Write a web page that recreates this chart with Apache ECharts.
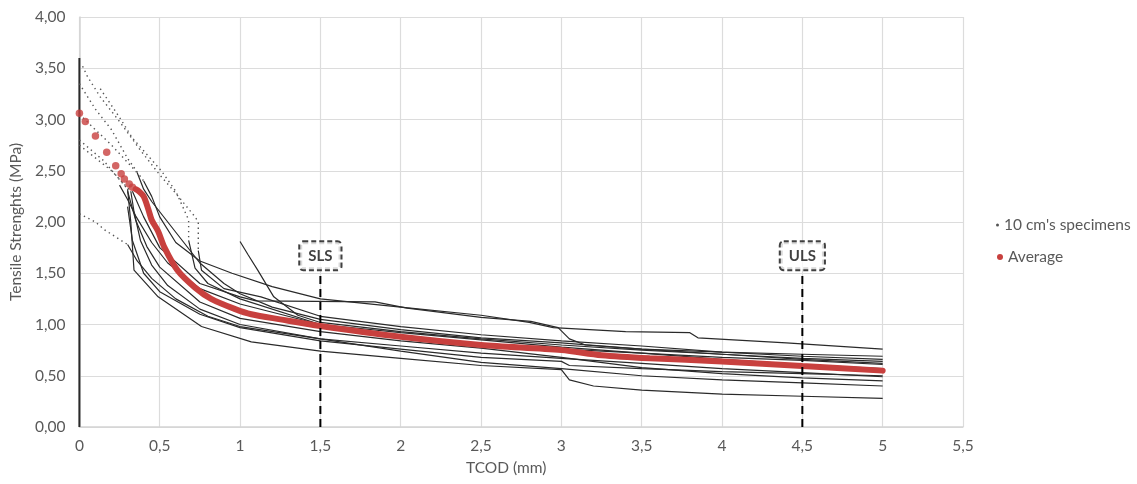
<!DOCTYPE html>
<html>
<head>
<meta charset="utf-8">
<script src="https://cdn.jsdelivr.net/npm/echarts@6/dist/echarts.min.js"></script>
<style>html,body{margin:0;padding:0;background:#fff}#c{width:1137px;height:484px}</style>
</head>
<body>
<div id="c"></div>
<script>
// ---- axis ticks ----
const xTicks = [0, 0.5, 1, 1.5, 2, 2.5, 3, 3.5, 4, 4.5, 5, 5.5];
const yTicks = [0, 0.5, 1, 1.5, 2, 2.5, 3, 3.5, 4];

// ---- specimen curves: sparse (dotted) heads ----
const h1 = [[0,0],[0,3.6]];
const h2 = [[0.02,3.52],[0.05,3.42],[0.13,3.22],[0.25,2.98],[0.38,2.7],[0.5,2.46],[0.6,2.28],[0.72,2.05],[0.74,2.0],[0.74,1.72]];
const h3 = [[0.13,3.3],[0.25,3.02],[0.33,2.82],[0.51,2.5],[0.6,2.3],[0.68,2.02],[0.68,1.82]];
const h4 = [[0,2.08],[0.1,2.0],[0.16,1.92],[0.3,1.78]];
const h5 = [[0,2.8],[0.15,2.6],[0.3,2.32]];
const h6 = [[0,2.75],[0.2,2.5],[0.32,2.3]];
const h7 = [[0,3.05],[0.2,2.75],[0.36,2.48]];
const h8 = [[0,3.35],[0.1,3.1],[0.2,2.9],[0.3,2.62],[0.4,2.4]];

// ---- specimen curves: dense (solid) parts ----
const s1 = [[0.4,2.4],[0.45,2.25],[0.5,2.05],[0.6,1.8],[0.75,1.62],[0.95,1.5],[1.2,1.37],[1.5,1.25],[2.0,1.17],[2.5,1.09],[2.8,1.02],[2.95,0.97],[3.4,0.93],[3.8,0.92],[3.85,0.87],[4.4,0.82],[5.0,0.76]];
const s2 = [[0.33,2.3],[0.4,2.05],[0.5,1.75],[0.75,1.4],[1.0,1.27],[1.1,1.23],[1.84,1.22],[2.04,1.16],[2.5,1.07],[2.81,1.03],[2.98,0.97],[3.05,0.86],[3.15,0.8],[3.5,0.76],[4.0,0.73],[4.5,0.71],[5.0,0.69]];
const s3 = [[1.0,1.81],[1.05,1.68],[1.11,1.53],[1.21,1.27],[1.36,1.09],[1.5,1.02],[2.0,0.93],[2.5,0.86],[3.0,0.8],[3.5,0.75],[4.0,0.71],[4.5,0.67],[5.0,0.64]];
const s4 = [[0.74,1.72],[0.76,1.53],[0.9,1.35],[1.13,1.27],[1.5,1.08],[2.0,0.98],[2.5,0.9],[3.0,0.84],[3.5,0.79],[4.0,0.73],[4.5,0.69],[5.0,0.66]];
const s5 = [[0.68,1.82],[0.72,1.55],[0.8,1.4],[1.0,1.25],[1.5,1.0],[2.0,0.88],[2.5,0.8],[3.0,0.76],[3.5,0.72],[4.0,0.68],[4.5,0.65],[5.0,0.61]];
const s6 = [[0.3,1.78],[0.36,1.62],[0.45,1.45],[0.6,1.25],[0.8,1.08],[1.0,0.98],[1.5,0.86],[2.0,0.79],[2.5,0.72],[3.0,0.67],[3.5,0.62],[4.0,0.57],[4.5,0.53],[5.0,0.49]];
const s7 = [[0.3,2.32],[0.32,2.0],[0.34,1.53],[0.49,1.27],[0.76,0.98],[1.07,0.83],[1.5,0.74],[2.0,0.67],[2.5,0.6],[3.0,0.56],[3.05,0.46],[3.2,0.4],[3.5,0.36],[4.0,0.32],[4.5,0.3],[5.0,0.28]];
const s8 = [[0.32,2.3],[0.34,2.1],[0.38,1.82],[0.45,1.58],[0.55,1.38],[0.75,1.15],[1.0,1.0],[1.5,0.86],[2.0,0.74],[2.5,0.63],[3.0,0.57],[3.5,0.5],[4.0,0.46],[4.5,0.43],[5.0,0.4]];
const s9 = [[0.3,2.3],[0.35,2.02],[0.42,1.76],[0.5,1.56],[0.75,1.22],[1.0,1.06],[1.5,0.93],[2.0,0.84],[2.5,0.77],[3.0,0.68],[3.5,0.58],[4.0,0.52],[4.5,0.48],[5.0,0.45]];
const s10 = [[0.25,2.36],[0.3,2.22],[0.35,2.06],[0.45,1.8],[0.55,1.6],[0.75,1.35],[1.0,1.2],[1.25,1.1],[1.5,1.0],[2.0,0.92],[2.5,0.85],[3.0,0.78],[3.5,0.72],[4.0,0.66],[4.5,0.61],[5.0,0.57]];
const s11 = [[0.36,2.48],[0.4,2.32],[0.45,2.2],[0.55,2.0],[0.65,1.8],[0.75,1.6],[0.9,1.4],[1.0,1.3],[1.2,1.17],[1.5,1.05],[2.0,0.95],[2.5,0.87],[3.0,0.82],[3.5,0.76],[4.0,0.71],[4.5,0.66],[5.0,0.62]];
const s12 = [[0.3,2.15],[0.33,1.82],[0.4,1.5],[0.5,1.32],[0.75,1.1],[1.0,0.97],[1.5,0.84],[2.0,0.76],[2.5,0.68],[3.0,0.64],[3.05,0.6],[3.5,0.57],[4.0,0.54],[4.5,0.52],[5.0,0.5]];

// ---- average curve ----
const avgDots = [[0,3.06],[0.037,2.98],[0.1,2.84],[0.17,2.68],[0.226,2.55],[0.26,2.47],[0.28,2.42],[0.31,2.37],[0.33,2.34]];
const avgLine = [[0.35,2.32],[0.37,2.3],[0.4,2.25],[0.43,2.12],[0.45,2.02],[0.49,1.91],[0.53,1.75],[0.61,1.53],[0.72,1.36],[0.82,1.25],[0.97,1.15],[1.07,1.1],[1.25,1.05],[1.5,0.985],[2.0,0.88],[2.5,0.8],[3.0,0.75],[3.25,0.7],[3.55,0.67],[4.0,0.64],[4.5,0.595],[5.0,0.55]];

// ---- limit-state annotations ----
const limitNames = ['SLS', 'ULS'];
const limitX = [1.5, 4.5];
const limitBoxY = 1.67;
const limitLineTop = 1.52;

const specimenName = "10 cm's specimens";
const heads = [h1, h2, h3, h4, h5, h6, h7, h8];
const tails = [s1, s2, s3, s4, s5, s6, s7, s8, s9, s10, s11, s12];

const FONT = 'Lato, "Open Sans", sans-serif';
const series = [];
heads.forEach((d, i) => {
  series.push({
    name: specimenName, type: 'line', data: d, showSymbol: false, silent: true,
    lineStyle: i === 0 ? {color: '#2a2a2a', width: 2} : {color: '#555', width: 1.4, type: [1.4, 3.6]},
    z: 2
  });
});
tails.forEach(d => {
  series.push({
    name: specimenName, type: 'line', data: d, showSymbol: false, silent: true,
    lineStyle: {color: '#2a2a2a', width: 1.2}, z: 2
  });
});
series.push({
  name: 'Average', type: 'line', data: avgLine, showSymbol: false, smooth: 0.3,
  lineStyle: {color: '#c8403e', width: 6, cap: 'round'}, z: 4
});
series.push({
  name: 'Average', type: 'scatter', data: avgDots, symbol: 'circle', symbolSize: 7.5,
  itemStyle: {color: '#c8403e'}, z: 4
});
limitNames.forEach((n, i) => {
  series.push({
    type: 'line', data: [[limitX[i], 0], [limitX[i], limitLineTop]], showSymbol: false, silent: true,
    lineStyle: {color: '#000', width: 2, type: [8, 5]}, z: 5
  });
  series.push({
    type: 'scatter', data: [[limitX[i], limitBoxY]], symbolSize: 0, silent: true, z: 6,
    label: {
      show: true, position: 'inside', formatter: n,
      fontFamily: FONT, fontWeight: 'bold', fontSize: 15, color: '#111',
      backgroundColor: '#fff', borderColor: '#111', borderWidth: 2, borderType: [5, 3],
      borderRadius: 3, padding: [7, 8, 5, 8]
    }
  });
});

const chart = echarts.init(document.getElementById('c'), null, {renderer: 'canvas'});
chart.setOption({
  animation: false,
  backgroundColor: '#fff',
  textStyle: {fontFamily: FONT},
  grid: {left: 78, right: 174, top: 17, bottom: 57, containLabel: false},
  legend: [
    {data: [{name: specimenName, icon: 'circle', itemStyle: {color: '#555'}}],
     orient: 'vertical', left: 991, top: 212, itemWidth: 3, itemHeight: 3,
     textStyle: {fontFamily: FONT, fontSize: 15.5, color: '#595959'}, selectedMode: false},
    {data: [{name: 'Average', icon: 'circle', itemStyle: {color: '#c8403e'}}],
     orient: 'vertical', left: 992, top: 244, itemWidth: 6, itemHeight: 6,
     textStyle: {fontFamily: FONT, fontSize: 15.5, color: '#595959'}, selectedMode: false}
  ],
  xAxis: {
    type: 'value', min: 0, max: 5.5, interval: 0.5,
    name: 'TCOD (mm)', nameLocation: 'middle', nameGap: 33,
    nameTextStyle: {fontFamily: FONT, fontSize: 15.5, color: '#595959', padding: [0, 30, 0, 0]},
    axisLine: {show: true, lineStyle: {color: '#d4d4d4', width: 1.5}},
    axisTick: {show: false},
    axisLabel: {fontFamily: FONT, fontSize: 15.5, color: '#595959', margin: 11,
      formatter: v => xTicks.includes(v) ? String(v).replace('.', ',') : ''},
    splitLine: {show: true, lineStyle: {color: '#dcdcdc', width: 1.2}}
  },
  yAxis: {
    type: 'value', min: 0, max: 4, interval: 0.5,
    name: 'Tensile Strenghts (MPa)', nameLocation: 'middle', nameGap: 48,
    nameTextStyle: {fontFamily: FONT, fontSize: 15.5, color: '#595959'},
    axisLine: {show: true, lineStyle: {color: '#d4d4d4', width: 1.5}},
    axisTick: {show: false},
    axisLabel: {fontFamily: FONT, fontSize: 15.5, color: '#595959', margin: 14,
      formatter: v => yTicks.includes(v) ? v.toFixed(2).replace('.', ',') : ''},
    splitLine: {show: true, lineStyle: {color: '#dcdcdc', width: 1.2}}
  },
  series: series
});
</script>
</body>
</html>
